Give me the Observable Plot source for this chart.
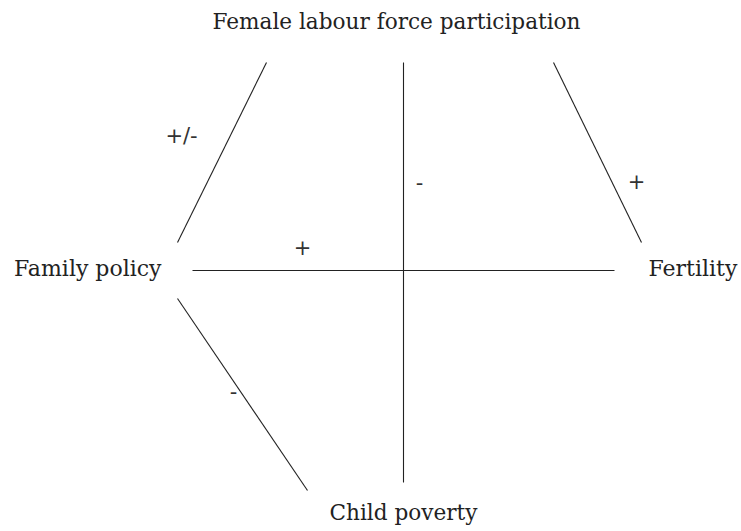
<!DOCTYPE html>
<html>
<head>
<meta charset="utf-8">
<script src="https://cdn.jsdelivr.net/npm/d3@7"></script>
<script src="https://cdn.jsdelivr.net/npm/@observablehq/plot@0.6"></script>
<style>
  html, body { margin: 0; padding: 0; background: #fff; }
  #chart svg { display: block; }
</style>
</head>
<body>
<div id="chart"></div>
<script>
// Concepts (nodes) of the diagram
const nodeNames = ["Female labour force participation", "Family policy", "Fertility", "Child poverty"];
const nodeX = [-7, -242, 245, 0];
const nodeY = [-248, -2, -2, 243];
const nodeAnchor = ["middle", "end", "start", "middle"];

// Relationships (links) between concepts
const linkFrom = ["Family policy", "Female labour force participation", "Family policy", "Female labour force participation", "Family policy"];
const linkTo = ["Female labour force participation", "Child poverty", "Fertility", "Fertility", "Child poverty"];
const linkSign = ["+/-", "-", "+", "+", "-"];
const linkX1 = [-226, 0, -211, 150, -226];
const linkY1 = [-28, -208, 0, -208, 28];
const linkX2 = [-137, 0, 211, 238, -96];
const linkY2 = [-208, 212, 0, -28, 220];
const signX = [-222, 16, -101, 233, -170];
const signY = [-134, -87, -22, -88, 122];

const nodes = nodeNames.map((name, i) => ({name, x: nodeX[i], y: nodeY[i], anchor: nodeAnchor[i]}));
const links = linkFrom.map((f, i) => ({from: f, to: linkTo[i], sign: linkSign[i],
  x1: linkX1[i], y1: linkY1[i], x2: linkX2[i], y2: linkY2[i], sx: signX[i], sy: signY[i]}));

const W = 741, H = 531;
const cx = 403, cy = 270;

const chart = Plot.plot({
  width: W,
  height: H,
  margin: 0,
  x: {domain: [-cx, W - cx], range: [0, W], axis: null},
  y: {domain: [-cy, H - cy], range: [0, H], axis: null},
  style: {fontFamily: "DejaVu Serif", background: "#fff", color: "#222"},
  marks: [
    Plot.link(links, {x1: "x1", y1: "y1", x2: "x2", y2: "y2", stroke: "#222", strokeWidth: 1.1}),
    Plot.text(links, {x: "sx", y: "sy", text: "sign", fontSize: 21, fill: "#333", fontFamily: "DejaVu Sans"}),
    ...["middle", "end", "start"].map(a =>
      Plot.text(nodes.filter(d => d.anchor === a), {x: "x", y: "y", text: "name", fontSize: a === "middle" ? 21.6 : 22, fill: "#222", textAnchor: a}))
  ]
});
document.getElementById("chart").appendChild(chart);
</script>
</body>
</html>
